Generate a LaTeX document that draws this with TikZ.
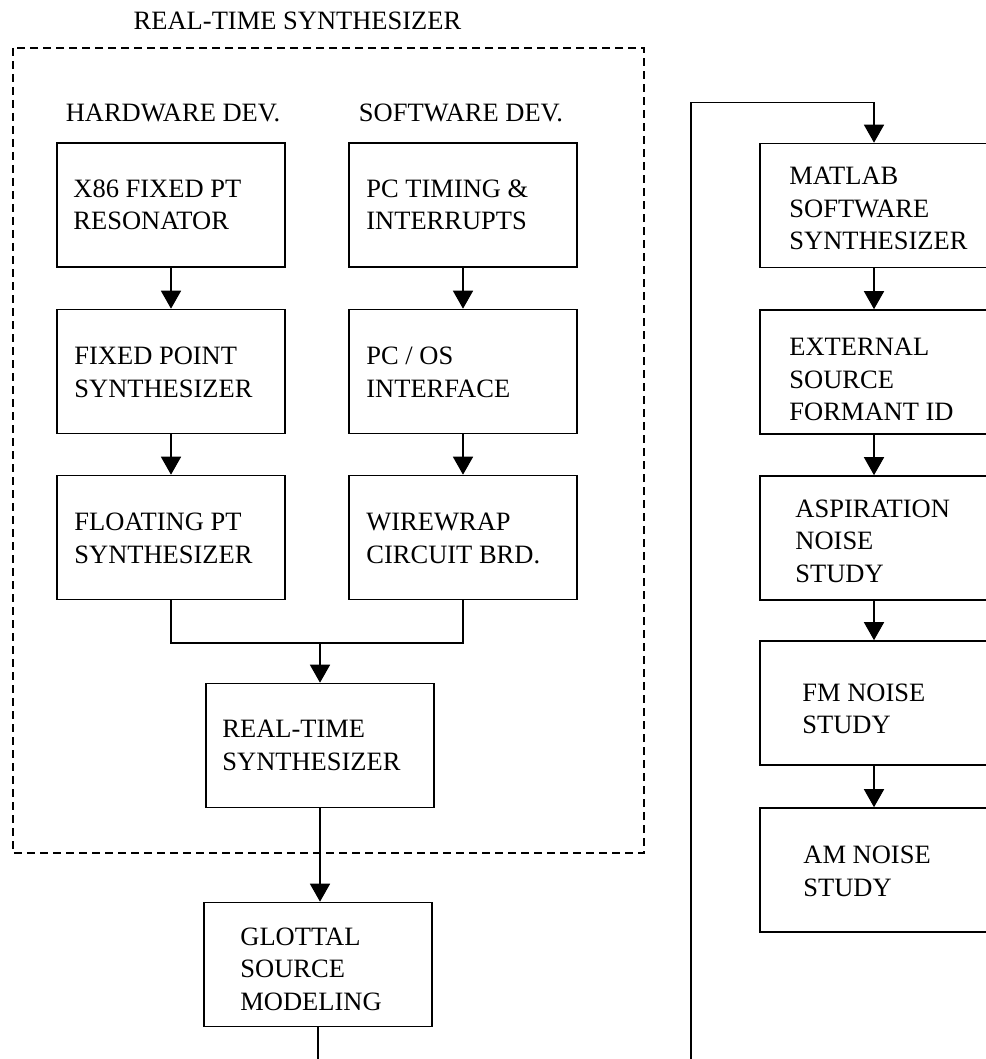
\documentclass[tikz,border=0pt]{standalone}
\usepackage{fontspec}
\setmainfont{Liberation Serif}
\usetikzlibrary{arrows.meta}

\begin{document}
\begin{tikzpicture}[
		x=1pt, y=-1pt,
		stage/.style={draw, line width=1.6pt, minimum width=228pt, minimum height=124pt, inner sep=0pt},
		caption/.style={align=left, inner sep=0pt, font=\fontsize{26.5}{32.5}\selectfont},
		wire/.style={line width=1.6pt},
		flow/.style={wire, -{Triangle[width=20pt,length=18pt]}},
		group/.style={line width=1.4pt, dash pattern=on 8pt off 5pt}
	]
	\useasboundingbox (0,0) rectangle (985,1059);

	% real-time synthesizer group
	\draw[group] (13,48) rectangle (644,853);
	\node[caption] (title) at (297.5,21) {REAL-TIME SYNTHESIZER};
	\node[caption] (hwdev) at (173,113) {HARDWARE DEV.};
	\node[caption] (swdev) at (461,113) {SOFTWARE DEV.};

	\node[stage] (x86) at (171,205) {};
	\node[stage] (pctime) at (463,205) {};
	\node[stage] (fixpt) at (171,371.5) {};
	\node[stage] (pcos) at (463,371.5) {};
	\node[stage] (flopt) at (171,537.5) {};
	\node[stage] (wwrap) at (463,537.5) {};
	\node[stage] (rts) at (320,745.5) {};
	\node[stage] (glottal) at (318,964.5) {};

	\node[caption, anchor=west] (x86-t) at ([xshift=17pt]x86.west) {X86 FIXED PT\\RESONATOR};
	\node[caption, anchor=west] (pctime-t) at ([xshift=18pt]pctime.west) {PC TIMING \&\\INTERRUPTS};
	\node[caption, anchor=west] (fixpt-t) at ([xshift=18pt,yshift=-1pt]fixpt.west) {FIXED POINT\\SYNTHESIZER};
	\node[caption, anchor=west] (pcos-t) at ([xshift=18pt,yshift=-1pt]pcos.west) {PC / OS\\INTERFACE};
	\node[caption, anchor=west] (flopt-t) at ([xshift=18pt,yshift=-1pt]flopt.west) {FLOATING PT\\SYNTHESIZER};
	\node[caption, anchor=west] (wwrap-t) at ([xshift=18pt,yshift=-1pt]wwrap.west) {WIREWRAP\\CIRCUIT BRD.};
	\node[caption, anchor=west] (rts-t) at ([xshift=17pt]rts.west) {REAL-TIME\\SYNTHESIZER};
	\node[caption, anchor=west] (glottal-t) at ([xshift=37pt,yshift=-4.5pt]glottal.west) {GLOTTAL\\SOURCE\\MODELING};

	% analysis chain on the right
	\node[stage] (matlab) at (874,205.5) {};
	\node[stage] (extsrc) at (874,372) {};
	\node[stage] (aspir) at (874,538) {};
	\node[stage] (fmnoise) at (874,703) {};
	\node[stage] (amnoise) at (874,870) {};

	\node[caption, anchor=west] (matlab-t) at ([xshift=30pt,yshift=-3pt]matlab.west) {MATLAB\\SOFTWARE\\SYNTHESIZER};
	\node[caption, anchor=west] (extsrc-t) at ([xshift=30pt,yshift=-7.5pt]extsrc.west) {EXTERNAL\\SOURCE\\FORMANT ID};
	\node[caption, anchor=west] (aspir-t) at ([xshift=36pt,yshift=-3pt]aspir.west) {ASPIRATION\\NOISE\\STUDY};
	\node[caption, anchor=west] (fmnoise-t) at ([xshift=43pt,yshift=-6pt]fmnoise.west) {FM NOISE\\STUDY};
	\node[caption, anchor=west] (amnoise-t) at ([xshift=44pt,yshift=-1.5pt]amnoise.west) {AM NOISE\\STUDY};

	% connectors
	\draw[flow] (x86) -- (fixpt);
	\draw[flow] (fixpt) -- (flopt);
	\draw[flow] (pctime) -- (pcos);
	\draw[flow] (pcos) -- (wwrap);
	\draw[wire] (flopt.south) -- ++(0,42.5) coordinate (join) -| (wwrap.south);
	\draw[flow] (join -| rts.north) -- (rts.north);
	\draw[flow] (rts.south) -- (rts.south |- glottal.north);
	\draw[wire] (glottal.south) -- ++(0,40);

	\coordinate (loop) at (691,1065);
	\draw[flow] (loop) |- ([yshift=40pt]matlab.north) -- (matlab.north);
	\draw[flow] (matlab) -- (extsrc);
	\draw[flow] (extsrc) -- (aspir);
	\draw[flow] (aspir) -- (fmnoise);
	\draw[flow] (fmnoise) -- (amnoise);
\end{tikzpicture}
\end{document}
